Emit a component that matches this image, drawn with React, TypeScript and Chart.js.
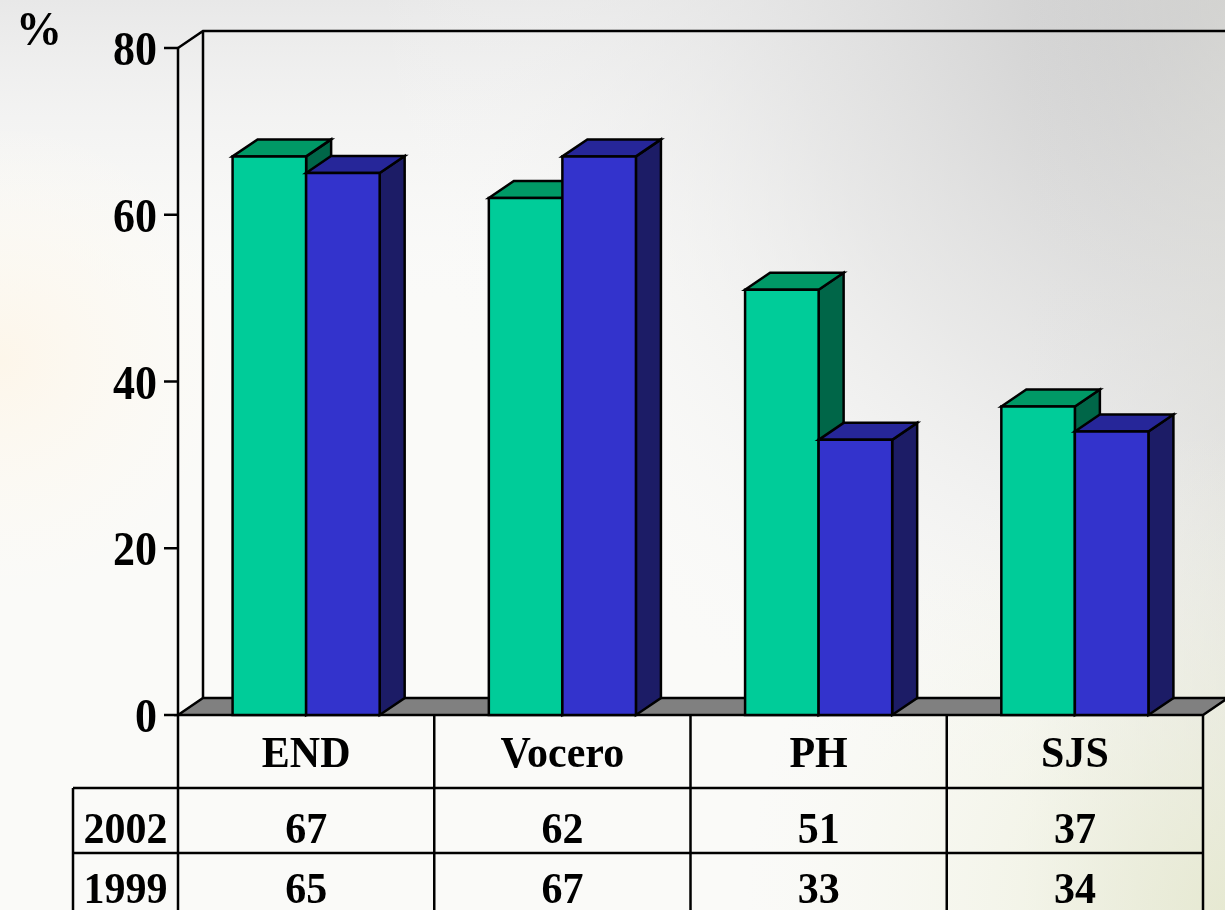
import React, { useEffect, useRef } from 'react';
import { Chart, registerables } from 'chart.js';

Chart.register(...registerables);

const categories = ['END', 'Vocero', 'PH', 'SJS'];
const seriesLabels = ['2002', '1999'];
const values2002 = [67, 62, 51, 37];
const values1999 = [65, 67, 33, 34];
const yTicks = [0, 20, 40, 60, 80];
const axisUnit = '%';

const frontColors = ['#00CC99', '#3333CC'];
const topColors = ['#009966', '#262699'];
const sideColors = ['#006648', '#1C1C66'];

const DX = 25;
const DY = 17;
const LW = 2.5;
const FONT = 'bold 42px "Liberation Serif", "Times New Roman", serif';
const TICK_FONT = 'bold 44px "Liberation Serif", "Times New Roman", serif';
const UNIT_FONT = 'bold 46px "Liberation Serif", "Times New Roman", serif';

function stretchedText(ctx: any, text: string, x: number, y: number, sy: number) {
  ctx.save();
  ctx.translate(x, y);
  ctx.scale(1, sy);
  ctx.fillText(text, 0, 0);
  ctx.restore();
}

const backgroundPlugin = {
  id: 'bg',
  beforeDraw(chart: any) {
    const { ctx, width, height } = chart;
    ctx.save();
    ctx.fillStyle = '#fafaf8';
    ctx.fillRect(0, 0, width, height);
    let g = ctx.createLinearGradient(0, 0, 0, 300);
    g.addColorStop(0, 'rgba(232,232,232,1)');
    g.addColorStop(1, 'rgba(248,248,248,0)');
    ctx.fillStyle = g;
    ctx.fillRect(0, 0, width, height);
    g = ctx.createRadialGradient(width, 0, 0, width, 0, 850);
    g.addColorStop(0, 'rgba(196,196,196,1)');
    g.addColorStop(0.5, 'rgba(225,225,225,0.7)');
    g.addColorStop(1, 'rgba(250,250,250,0)');
    ctx.fillStyle = g;
    ctx.fillRect(0, 0, width, height);
    g = ctx.createLinearGradient(width - 200, 0, width, 0);
    g.addColorStop(0, 'rgba(225,225,225,0)');
    g.addColorStop(1, 'rgba(222,222,218,0.6)');
    ctx.fillStyle = g;
    ctx.fillRect(0, 0, width, height);
    g = ctx.createRadialGradient(0, 360, 0, 0, 360, 240);
    g.addColorStop(0, 'rgba(253,246,234,1)');
    g.addColorStop(1, 'rgba(253,250,242,0)');
    ctx.fillStyle = g;
    ctx.fillRect(0, 0, width, height);
    g = ctx.createRadialGradient(width, height, 0, width, height, 480);
    g.addColorStop(0, 'rgba(230,233,208,0.9)');
    g.addColorStop(1, 'rgba(245,246,232,0)');
    ctx.fillStyle = g;
    ctx.fillRect(0, 0, width, height);
    ctx.restore();
  },
};

const framePlugin = {
  id: 'frame',
  beforeDatasetsDraw(chart: any) {
    const { ctx, scales, chartArea } = chart;
    const xs = scales.x;
    const ys = scales.y;
    const L = chartArea.left;
    const R = chartArea.right;
    const yTop = ys.getPixelForValue(yTicks[yTicks.length - 1]);
    const yBase = ys.getPixelForValue(0);
    ctx.save();
    ctx.lineWidth = LW;
    ctx.strokeStyle = '#000';
    ctx.lineJoin = 'miter';

    // floor
    ctx.beginPath();
    ctx.moveTo(L, yBase);
    ctx.lineTo(L + DX, yBase - DY);
    ctx.lineTo(R + DX, yBase - DY);
    ctx.lineTo(R, yBase);
    ctx.closePath();
    ctx.fillStyle = '#808080';
    ctx.fill();
    ctx.stroke();

    // left wall + back wall lines
    ctx.beginPath();
    ctx.moveTo(L, yTop);
    ctx.lineTo(L + DX, yTop - DY);
    ctx.lineTo(R + DX + 10, yTop - DY);
    ctx.moveTo(L + DX, yTop - DY);
    ctx.lineTo(L + DX, yBase - DY);
    ctx.stroke();

    // front axis
    ctx.beginPath();
    ctx.moveTo(L, yTop);
    ctx.lineTo(L, chart.height);
    ctx.stroke();

    // ticks and labels
    ctx.fillStyle = '#000';
    ctx.font = TICK_FONT;
    ctx.textAlign = 'right';
    ctx.textBaseline = 'alphabetic';
    yTicks.forEach((t) => {
      const py = ys.getPixelForValue(t);
      ctx.beginPath();
      ctx.moveTo(L - 14, py);
      ctx.lineTo(L, py);
      ctx.stroke();
      stretchedText(ctx, String(t), L - 21, py + 17, 1.1);
    });

    // unit label
    ctx.font = UNIT_FONT;
    ctx.textAlign = 'left';
    stretchedText(ctx, axisUnit, 16, 45, 1.05);

    // data table
    const headerH = 73;
    const rowH = 65;
    const labelW = 105;
    const step = xs.getPixelForValue(1) - xs.getPixelForValue(0);
    const rowTop1 = yBase + headerH;
    const rowTop2 = rowTop1 + rowH;
    ctx.beginPath();
    ctx.moveTo(L - labelW, rowTop1);
    ctx.lineTo(R, rowTop1);
    ctx.moveTo(L - labelW, rowTop2);
    ctx.lineTo(R, rowTop2);
    ctx.moveTo(L - labelW, rowTop1);
    ctx.lineTo(L - labelW, chart.height);
    for (let i = 0; i < categories.length; i++) {
      const bx = xs.getPixelForValue(i) + step / 2;
      ctx.moveTo(bx, yBase);
      ctx.lineTo(bx, chart.height);
    }
    ctx.stroke();

    ctx.textAlign = 'center';
    ctx.font = FONT;
    const rows = [values2002, values1999];
    const baselines = [rowTop1 + 55, rowTop2 + 50];
    categories.forEach((c, i) => {
      const cx = xs.getPixelForValue(i);
      stretchedText(ctx, c, cx, yBase + 52, 1.05);
      rows.forEach((r, k) => stretchedText(ctx, String(r[i]), cx, baselines[k], 1.05));
    });
    seriesLabels.forEach((s, k) => stretchedText(ctx, s, L - labelW / 2, baselines[k], 1.05));
    ctx.restore();
  },
  afterDatasetsDraw(chart: any) {
    const { ctx } = chart;
    ctx.save();
    ctx.lineWidth = LW;
    ctx.strokeStyle = '#000';
    ctx.lineJoin = 'miter';
    const metas = [chart.getDatasetMeta(0), chart.getDatasetMeta(1)];
    for (let i = 0; i < categories.length; i++) {
      metas.forEach((meta: any, d: number) => {
        const el = meta.data[i];
        const w = el.width;
        const left = el.x - w / 2;
        const right = el.x + w / 2;
        const top = el.y;
        const base = el.base;
        // side
        ctx.beginPath();
        ctx.moveTo(right, top);
        ctx.lineTo(right + DX, top - DY);
        ctx.lineTo(right + DX, base - DY);
        ctx.lineTo(right, base);
        ctx.closePath();
        ctx.fillStyle = sideColors[d];
        ctx.fill();
        ctx.stroke();
        // top
        ctx.beginPath();
        ctx.moveTo(left, top);
        ctx.lineTo(left + DX, top - DY);
        ctx.lineTo(right + DX, top - DY);
        ctx.lineTo(right, top);
        ctx.closePath();
        ctx.fillStyle = topColors[d];
        ctx.fill();
        ctx.stroke();
        // front
        ctx.beginPath();
        ctx.rect(left, top, w, base - top);
        ctx.fillStyle = frontColors[d];
        ctx.fill();
        ctx.stroke();
      });
    }
    ctx.restore();
  },
};

export default function App() {
  const ref = useRef<HTMLCanvasElement | null>(null);
  useEffect(() => {
    if (!ref.current) return;
    const chart = new Chart(ref.current, {
      type: 'bar',
      data: {
        labels: categories,
        datasets: [
          { label: seriesLabels[0], data: values2002, backgroundColor: frontColors[0], borderWidth: 0 },
          { label: seriesLabels[1], data: values1999, backgroundColor: frontColors[1], borderWidth: 0 },
        ],
      },
      options: {
        responsive: false,
        animation: false,
        devicePixelRatio: 1,
        layout: { padding: { left: 178, right: 22, top: 48, bottom: 195 } },
        plugins: { legend: { display: false }, tooltip: { enabled: false }, title: { display: false } },
        datasets: { bar: { categoryPercentage: 0.574, barPercentage: 1.0 } },
        scales: {
          x: { display: false, offset: true },
          y: { display: false, min: 0, max: 80 },
        },
      },
      plugins: [backgroundPlugin, framePlugin],
    });
    return () => chart.destroy();
  }, []);
  return (
    <div style={{ position: 'fixed', left: 0, top: 0, width: 1225, height: 910 }}>
      <canvas ref={ref} width={1225} height={910} style={{ display: 'block' }} />
    </div>
  );
}
